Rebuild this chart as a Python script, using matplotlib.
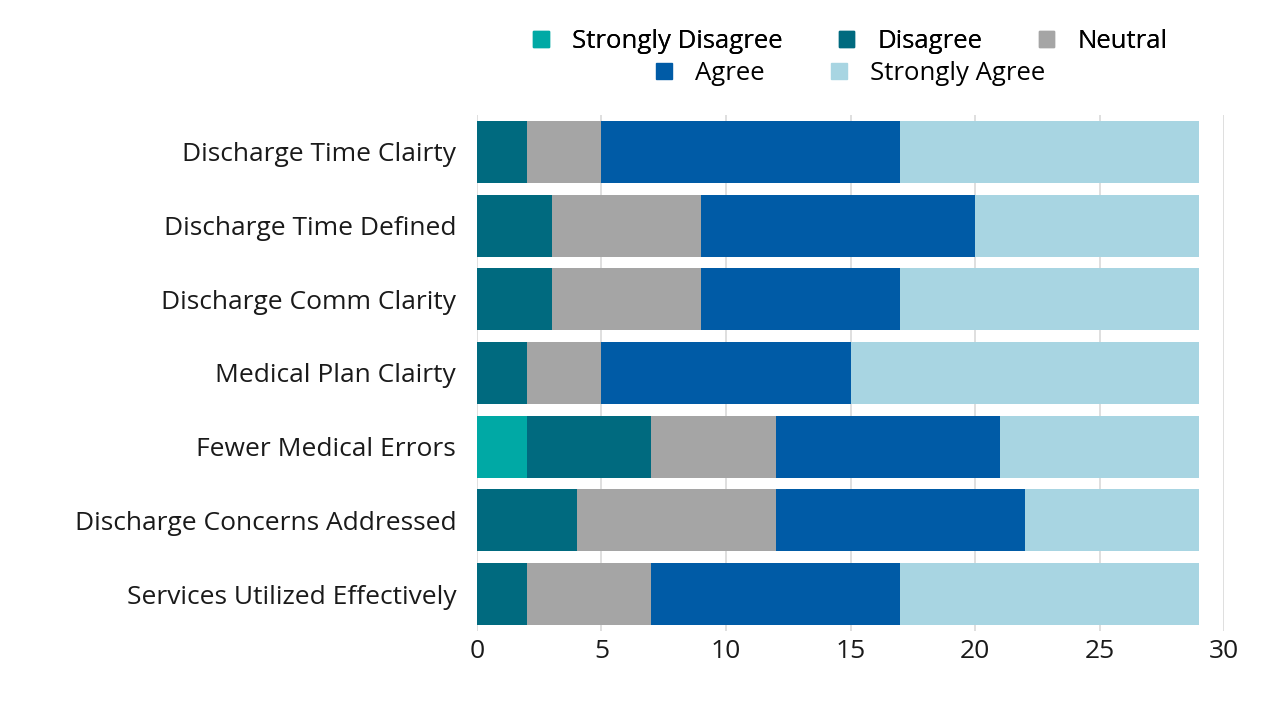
import numpy as np
import matplotlib.pyplot as plt
from matplotlib.patches import Patch

plt.rcParams['font.family'] = ['Open Sans', 'DejaVu Sans']

questions = ['Discharge Time Clairty', 'Discharge Time Defined', 'Discharge Comm Clarity',
             'Medical Plan Clairty', 'Fewer Medical Errors', 'Discharge Concerns Addressed',
             'Services Utilized Effectively']
levels = ['Strongly Disagree', 'Disagree', 'Neutral', 'Agree', 'Strongly Agree']

strongly_disagree = [0, 0, 0, 0, 2, 0, 0]
disagree          = [2, 3, 3, 2, 5, 4, 2]
neutral           = [3, 6, 6, 3, 5, 8, 5]
agree             = [12, 11, 8, 10, 9, 10, 10]
strongly_agree    = [12, 9, 12, 14, 8, 7, 12]

colors = ['#00A9A5', '#006A7F', '#A5A5A5', '#005BA6', '#A8D5E2']
series = [strongly_disagree, disagree, neutral, agree, strongly_agree]

fig = plt.figure(figsize=(12.74, 7.12), dpi=100)
ax = fig.add_axes([0.3744, 0.1138, 0.5864, 0.7247])

y = np.arange(len(questions))
left = np.zeros(len(questions))
for vals, c, lab in zip(series, colors, levels):
    vals = np.array(vals, dtype=float)
    ax.barh(y, vals, left=left, height=0.84, color=c, label=lab, zorder=3)
    left += vals

ax.set_ylim(len(questions) - 0.5, -0.5)
ax.set_xlim(0, 30)
ax.set_xticks(range(0, 31, 5))
ax.set_yticks(y)
ax.set_yticklabels(questions)
ax.tick_params(axis='both', length=0, labelsize=19, colors='#1a1a1a')
ax.tick_params(axis='y', pad=15)
ax.tick_params(axis='x', pad=6)
ax.grid(axis='x', color='#d9d9d9', linewidth=1.2, zorder=0)
for s in ax.spines.values():
    s.set_visible(False)

handles = [Patch(color=c) for c in colors]
leg1 = fig.legend(handles[:3], levels[:3], ncol=3, loc='center', bbox_to_anchor=(0.6676, 0.942),
                  frameon=False, fontsize=18.5, handlelength=0.6, handleheight=0.6,
                  columnspacing=2.2, handletextpad=0.9, borderpad=0)
leg2 = fig.legend(handles[3:], levels[3:], ncol=2, loc='center', bbox_to_anchor=(0.6676, 0.897),
                  frameon=False, fontsize=18.5, handlelength=0.6, handleheight=0.6,
                  columnspacing=2.6, handletextpad=0.9, borderpad=0)
fig.add_artist(leg1)

fig.savefig('out.png', dpi=100)
